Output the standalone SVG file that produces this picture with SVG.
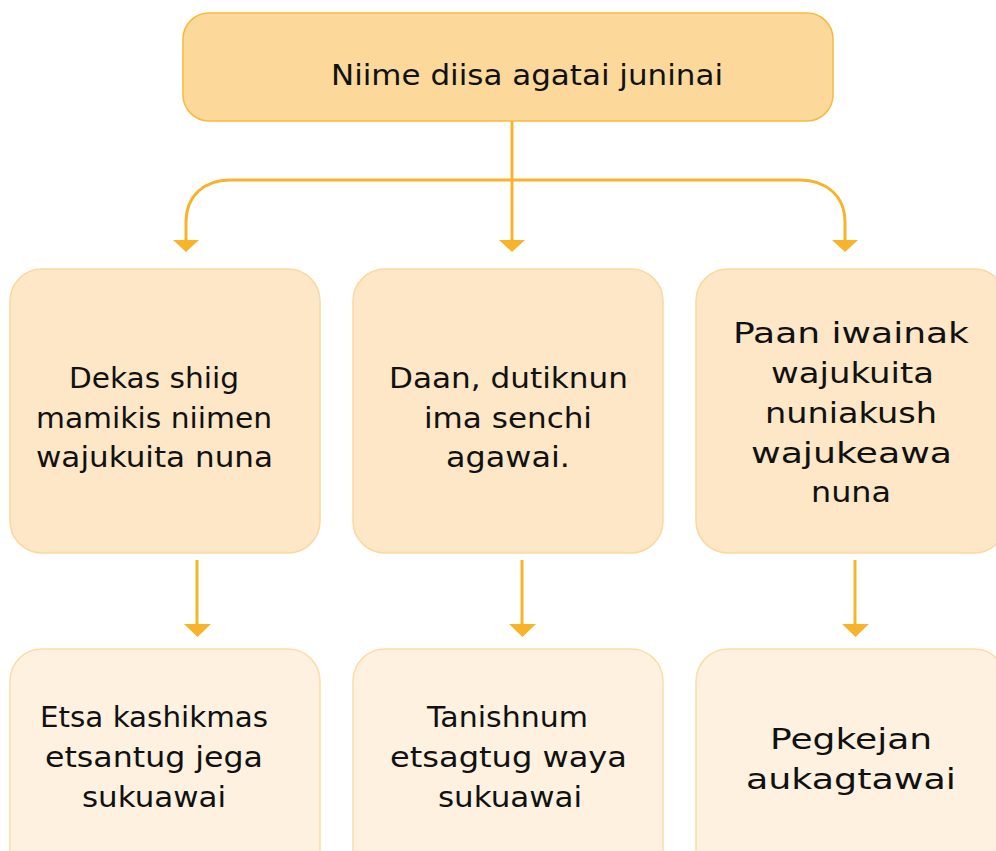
<svg xmlns="http://www.w3.org/2000/svg" width="996" height="851" viewBox="0 0 996 851">
<defs>
<style>
.top{fill:#FCD99B;stroke:#F6BA3C;stroke-width:1.5}
.mid{fill:#FDE7C7;stroke:#FAD89F;stroke-width:1.5}
.bot{fill:#FEF1E0;stroke:#FCDDA9;stroke-width:1.5}
.t{font-family:"DejaVu Sans","Liberation Sans",sans-serif;font-size:29px;fill:#111;text-anchor:middle}
.c{fill:none;stroke:#F7B42A;stroke-width:3}
.h{fill:#F7B42A;stroke:none}
</style>
</defs>
<rect width="996" height="851" fill="#fff"/>
<g id="connectors">
<path class="c" d="M512 121 V242"/>
<path class="h" d="M499 240 L525 240 L512 252 Z"/>
<path class="c" d="M186 242 V222 C186 196 204 180 230 180 H800 C826 180 845 196 845 222 V242"/>
<path class="h" d="M173 240 L199 240 L186 252 Z"/>
<path class="h" d="M832 240 L858 240 L845 252 Z"/>
<path class="c" d="M197 560 V626"/>
<path class="h" d="M184 624 L211 624 L197.5 637 Z"/>
<path class="c" d="M522 560 V626"/>
<path class="h" d="M509 624 L536 624 L522.5 637 Z"/>
<path class="c" d="M855 560 V626"/>
<path class="h" d="M842 624 L869 624 L855.5 637 Z"/>
</g>
<g id="root">
<rect class="top" x="183" y="13" width="650" height="108" rx="26"/>
<text class="t" x="527" y="85" textLength="392" lengthAdjust="spacingAndGlyphs">Niime diisa agatai juninai</text>
</g>
<g id="n1">
<rect class="mid" x="10" y="269" width="310" height="284" rx="32"/>
<text class="t" x="154" y="388" textLength="170" lengthAdjust="spacingAndGlyphs">Dekas shiig</text>
<text class="t" x="154" y="428" textLength="236" lengthAdjust="spacingAndGlyphs">mamikis niimen</text>
<text class="t" x="154.5" y="467" textLength="237" lengthAdjust="spacingAndGlyphs">wajukuita nuna</text>
</g>
<g id="n2">
<rect class="mid" x="353" y="269" width="310" height="284" rx="32"/>
<text class="t" x="508.5" y="388" textLength="239" lengthAdjust="spacingAndGlyphs">Daan, dutiknun</text>
<text class="t" x="508" y="428" textLength="168" lengthAdjust="spacingAndGlyphs">ima senchi</text>
<text class="t" x="508" y="467" textLength="124" lengthAdjust="spacingAndGlyphs">agawai.</text>
</g>
<g id="n3">
<rect class="mid" x="696" y="269" width="310" height="284" rx="32"/>
<text class="t" x="851" y="343" textLength="236" lengthAdjust="spacingAndGlyphs">Paan iwainak</text>
<text class="t" x="852.5" y="383" textLength="163" lengthAdjust="spacingAndGlyphs">wajukuita</text>
<text class="t" x="851" y="423" textLength="172" lengthAdjust="spacingAndGlyphs">nuniakush</text>
<text class="t" x="851.5" y="463" textLength="201" lengthAdjust="spacingAndGlyphs">wajukeawa</text>
<text class="t" x="851" y="502" textLength="80" lengthAdjust="spacingAndGlyphs">nuna</text>
</g>
<g id="n4">
<rect class="bot" x="10" y="649" width="310" height="240" rx="32"/>
<text class="t" x="154" y="727" textLength="228" lengthAdjust="spacingAndGlyphs">Etsa kashikmas</text>
<text class="t" x="154" y="767" textLength="218" lengthAdjust="spacingAndGlyphs">etsantug jega</text>
<text class="t" x="154" y="807" textLength="144" lengthAdjust="spacingAndGlyphs">sukuawai</text>
</g>
<g id="n5">
<rect class="bot" x="353" y="649" width="310" height="240" rx="32"/>
<text class="t" x="507.5" y="727" textLength="161" lengthAdjust="spacingAndGlyphs">Tanishnum</text>
<text class="t" x="508.5" y="767" textLength="237" lengthAdjust="spacingAndGlyphs">etsagtug waya</text>
<text class="t" x="510" y="807" textLength="144" lengthAdjust="spacingAndGlyphs">sukuawai</text>
</g>
<g id="n6">
<rect class="bot" x="696" y="649" width="310" height="240" rx="32"/>
<text class="t" x="851" y="749" textLength="162" lengthAdjust="spacingAndGlyphs">Pegkejan</text>
<text class="t" x="851" y="789" textLength="210" lengthAdjust="spacingAndGlyphs">aukagtawai</text>
</g>
</svg>
